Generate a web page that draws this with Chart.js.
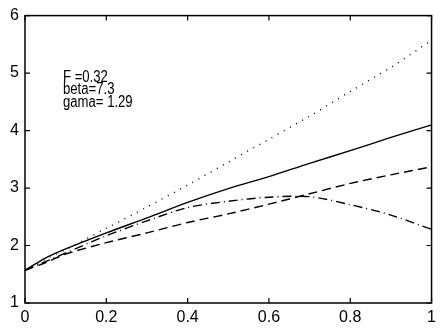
<!DOCTYPE html>
<html>
<head>
<meta charset="utf-8">
<script src="https://cdn.jsdelivr.net/npm/chart.js@4"></script>
<style>
  html, body { margin: 0; padding: 0; background: #fff; }
  #wrap { width: 441px; height: 329px; }
</style>
</head>
<body>
<div id="wrap"><canvas id="myChart"></canvas></div>
<script>
// values
const xs = [0, 0.05, 0.1, 0.2, 0.3, 0.4, 0.5, 0.6, 0.7, 0.8, 0.9, 1];
const solid = [1.57, 1.78, 1.94, 2.22, 2.48, 2.75, 2.99, 3.2, 3.43, 3.65, 3.88, 4.1];
const dotted = [1.57, 1.76, 1.93, 2.3, 2.67, 3.05, 3.45, 3.85, 4.25, 4.68, 5.1, 5.57];
const dashed = [1.57, 1.7, 1.85, 2.05, 2.22, 2.4, 2.55, 2.72, 2.9, 3.08, 3.23, 3.37];
const dashdot = [1.57, 1.72, 1.87, 2.17, 2.43, 2.66, 2.77, 2.84, 2.85, 2.71, 2.53, 2.28];
const xTicks = [0, 0.2, 0.4, 0.6, 0.8, 1];
const yTicks = [1, 2, 3, 4, 5, 6];
const notes = ['F =0.32', 'beta=7.3', 'gama= 1.29'];

const pts = (ys) => xs.map((x, i) => ({x: x, y: ys[i]}));

const mkSet = (ys, dash) => ({
    data: pts(ys),
    borderColor: '#000',
    borderWidth: 1.4,
    borderDash: dash,
    pointRadius: 0,
    fill: false,
    tension: 0.3
});

// box, inward ticks and the text block
const framePlugin = {
    id: 'frame',
    afterDatasetsDraw(chart) {
        const {ctx, chartArea: a, scales: {x, y}} = chart;
        ctx.save();
        ctx.strokeStyle = '#000';
        ctx.lineWidth = 1.5;
        ctx.strokeRect(a.left, a.top, a.right - a.left, a.bottom - a.top);
        ctx.lineWidth = 1.2;
        ctx.beginPath();
        xTicks.forEach(v => {
            const px = x.getPixelForValue(v);
            ctx.moveTo(px, a.bottom); ctx.lineTo(px, a.bottom - 5);
            ctx.moveTo(px, a.top); ctx.lineTo(px, a.top + 5);
        });
        yTicks.forEach(v => {
            const py = y.getPixelForValue(v);
            ctx.moveTo(a.left, py); ctx.lineTo(a.left + 5, py);
            ctx.moveTo(a.right, py); ctx.lineTo(a.right - 5, py);
        });
        ctx.stroke();

        // condensed text like the original
        ctx.fillStyle = '#000';
        ctx.font = '16px "Liberation Sans", Arial, sans-serif';
        ctx.textBaseline = 'alphabetic';
        ctx.translate(a.left + 38, a.top + 66);
        ctx.scale(0.82, 1);
        notes.forEach((t, i) => {
            ctx.fillText(t, 0, i * 12.5);
        });
        ctx.restore();
    }
};

const config = {
    type: 'line',
    data: {
        datasets: [
            mkSet(solid, []),
            mkSet(dotted, [1, 6]),
            mkSet(dashed, [9, 5]),
            mkSet(dashdot, [9, 4, 1, 4])
        ]
    },
    options: {
        responsive: true,
        maintainAspectRatio: false,
        animation: false,
        layout: {
            autoPadding: false,
            padding: {left: 0, right: 2, top: 15, bottom: 0}
        },
        plugins: {
            legend: {display: false},
            tooltip: {enabled: false}
        },
        scales: {
            x: {
                type: 'linear',
                min: 0,
                max: 1,
                afterFit(s) { s.height = 26; },
                afterBuildTicks(s) { s.ticks = xTicks.map(v => ({value: v})); },
                grid: {display: false, drawTicks: false},
                border: {display: false},
                ticks: {
                    color: '#000',
                    padding: 5,
                    font: {size: 16, family: '"Liberation Sans", Arial, sans-serif'},
                    maxRotation: 0,
                    callback: (v) => String(v)
                }
            },
            y: {
                min: 1,
                max: 6,
                afterFit(s) { s.width = 25; },
                afterBuildTicks(s) { s.ticks = yTicks.map(v => ({value: v})); },
                grid: {display: false, drawTicks: false},
                border: {display: false},
                ticks: {
                    color: '#000',
                    padding: 6,
                    font: {size: 16, family: '"Liberation Sans", Arial, sans-serif'},
                    callback: (v) => String(v)
                }
            }
        }
    },
    plugins: [framePlugin]
};

const ctx = document.getElementById('myChart').getContext('2d');
new Chart(ctx, config);
</script>
</body>
</html>
